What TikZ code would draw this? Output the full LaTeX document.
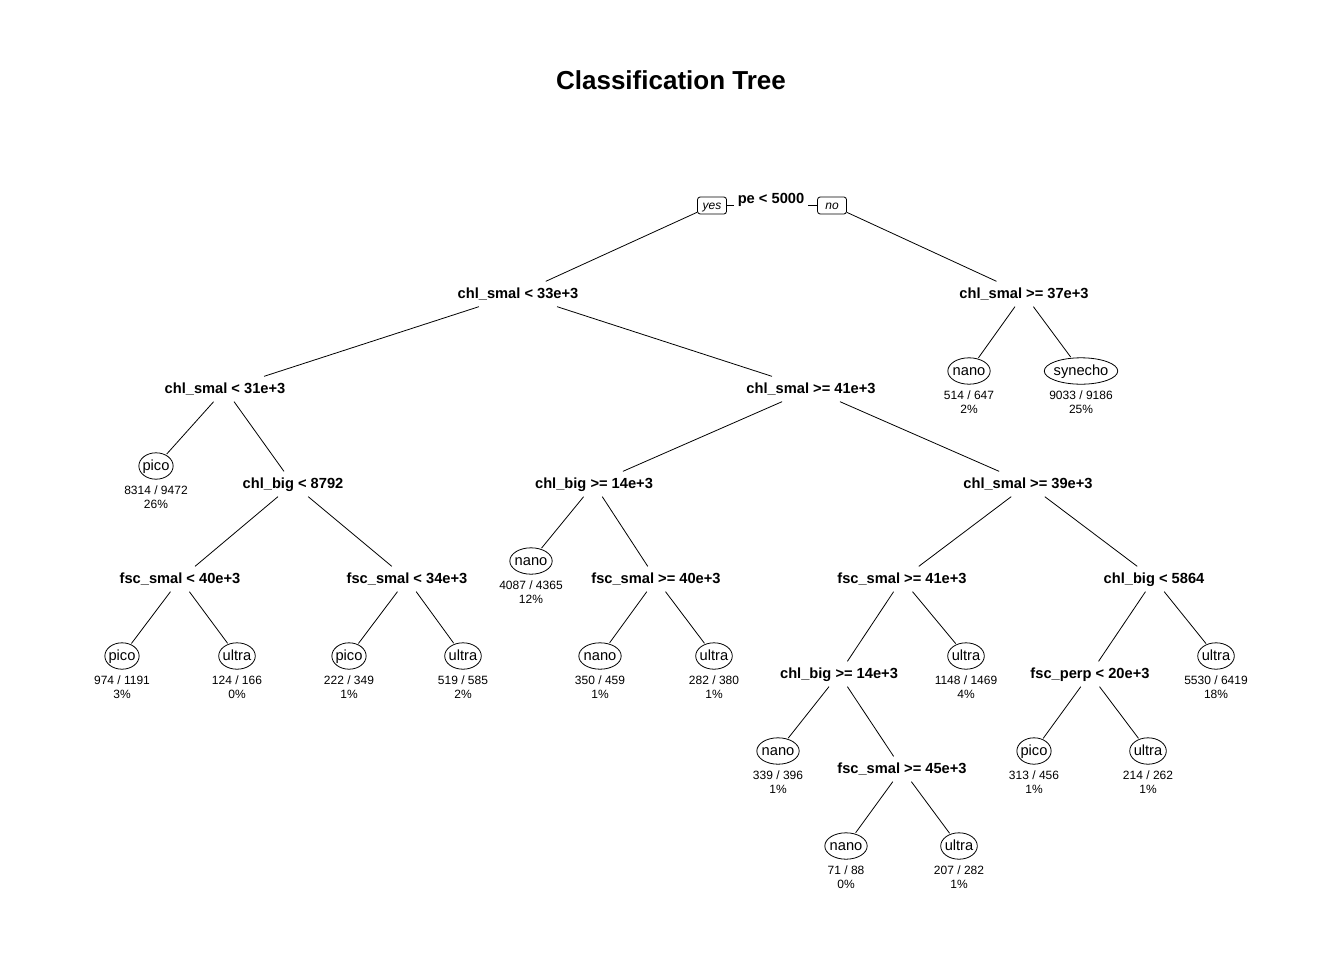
\documentclass[tikz,border=0pt]{standalone}
\usepackage{fontspec}
\setmainfont{Liberation Sans}
\usetikzlibrary{shapes.geometric}
\begin{document}
\begin{tikzpicture}[x=0.75pt, y=-0.75pt, node distance=23.25pt, every node/.style={align=center}]
        \tikzstyle{split}=[font=\bfseries\fontsize{11}{13}\selectfont, text height=9.5pt, text depth=2.5pt, inner xsep=1pt, inner ysep=1.5pt, outer sep=2pt];
        \tikzstyle{leaf}=[ellipse, draw, line width=0.6pt, font=\fontsize{11}{12}\selectfont, text height=8.6pt, text depth=2.2pt, inner xsep=-1pt, inner ysep=1.6pt, outer sep=1pt];
        \tikzstyle{count}=[font=\fontsize{9}{10.5}\selectfont, inner sep=0pt];
        \tikzstyle{tag}=[rectangle, draw, rounded corners=2pt, line width=0.6pt, font=\itshape\fontsize{9}{10}\selectfont, text height=7pt, text depth=1.5pt, minimum width=21.75pt, minimum height=12.75pt, inner sep=1pt];
        \tikzstyle{edge}=[line width=0.6pt];
        \useasboundingbox (0,0) rectangle (1344,960);
        \node[font=\bfseries\fontsize{19.5}{22}\selectfont] (title) at (671,80) {Classification Tree};
        % root and yes/no tags
        \node[split] (root) at (771,199) {pe < 5000};
        \node[tag] (yes) at (712,205.5) {yes};
        \node[tag] (no) at (832,205.5) {no};
        \draw[edge] (yes.east) -- (yes.east -| root.west);
        \draw[edge] (no.west) -- (no.west -| root.east);
        % splits
        \node[split] (n2) at (518,294) {chl\_smal < 33e+3};
        \node[split] (n3) at (1024,294) {chl\_smal >= 37e+3};
        \node[split] (n4) at (225,389) {chl\_smal < 31e+3};
        \node[split] (n5) at (811,389) {chl\_smal >= 41e+3};
        \node[split] (n9) at (293,484) {chl\_big < 8792};
        \node[split] (n10) at (594,484) {chl\_big >= 14e+3};
        \node[split] (n11) at (1028,484) {chl\_smal >= 39e+3};
        \node[split] (n12) at (180,579) {fsc\_smal < 40e+3};
        \node[split] (n13) at (407,579) {fsc\_smal < 34e+3};
        \node[split] (n15) at (656,579) {fsc\_smal >= 40e+3};
        \node[split] (n16) at (902,579) {fsc\_smal >= 41e+3};
        \node[split] (n17) at (1154,579) {chl\_big < 5864};
        \node[split] (n24) at (839,674) {chl\_big >= 14e+3};
        \node[split] (n26) at (1090,674) {fsc\_perp < 20e+3};
        \node[split] (n29) at (902,769) {fsc\_smal >= 45e+3};
        % leaves
        \node[leaf] (l6) at (969,371) {nano};
        \node[count, below of=l6] (c6) {514 / 647\\2\%};
        \node[leaf] (l7) at (1081,371) {synecho};
        \node[count, below of=l7] (c7) {9033 / 9186\\25\%};
        \node[leaf] (l8) at (156,466) {pico};
        \node[count, below of=l8] (c8) {8314 / 9472\\26\%};
        \node[leaf] (l14) at (531,561) {nano};
        \node[count, below of=l14] (c14) {4087 / 4365\\12\%};
        \node[leaf] (l18) at (122,656) {pico};
        \node[count, below of=l18] (c18) {974 / 1191\\3\%};
        \node[leaf] (l19) at (237,656) {ultra};
        \node[count, below of=l19] (c19) {124 / 166\\0\%};
        \node[leaf] (l20) at (349,656) {pico};
        \node[count, below of=l20] (c20) {222 / 349\\1\%};
        \node[leaf] (l21) at (463,656) {ultra};
        \node[count, below of=l21] (c21) {519 / 585\\2\%};
        \node[leaf] (l22) at (600,656) {nano};
        \node[count, below of=l22] (c22) {350 / 459\\1\%};
        \node[leaf] (l23) at (714,656) {ultra};
        \node[count, below of=l23] (c23) {282 / 380\\1\%};
        \node[leaf] (l25) at (966,656) {ultra};
        \node[count, below of=l25] (c25) {1148 / 1469\\4\%};
        \node[leaf] (l27) at (1216,656) {ultra};
        \node[count, below of=l27] (c27) {5530 / 6419\\18\%};
        \node[leaf] (l28) at (778,751) {nano};
        \node[count, below of=l28] (c28) {339 / 396\\1\%};
        \node[leaf] (l30) at (1034,751) {pico};
        \node[count, below of=l30] (c30) {313 / 456\\1\%};
        \node[leaf] (l31) at (1148,751) {ultra};
        \node[count, below of=l31] (c31) {214 / 262\\1\%};
        \node[leaf] (l32) at (846,846) {nano};
        \node[count, below of=l32] (c32) {71 / 88\\0\%};
        \node[leaf] (l33) at (959,846) {ultra};
        \node[count, below of=l33] (c33) {207 / 282\\1\%};
        % branches
        \draw[edge] (yes) -- (n2);
        \draw[edge] (no) -- (n3);
        \draw[edge] (n2) -- (n4);
        \draw[edge] (n2) -- (n5);
        \draw[edge] (n3) -- (l6);
        \draw[edge] (n3) -- (l7);
        \draw[edge] (n4) -- (l8);
        \draw[edge] (n4) -- (n9);
        \draw[edge] (n5) -- (n10);
        \draw[edge] (n5) -- (n11);
        \draw[edge] (n9) -- (n12);
        \draw[edge] (n9) -- (n13);
        \draw[edge] (n10) -- (l14);
        \draw[edge] (n10) -- (n15);
        \draw[edge] (n11) -- (n16);
        \draw[edge] (n11) -- (n17);
        \draw[edge] (n12) -- (l18);
        \draw[edge] (n12) -- (l19);
        \draw[edge] (n13) -- (l20);
        \draw[edge] (n13) -- (l21);
        \draw[edge] (n15) -- (l22);
        \draw[edge] (n15) -- (l23);
        \draw[edge] (n16) -- (n24);
        \draw[edge] (n16) -- (l25);
        \draw[edge] (n17) -- (n26);
        \draw[edge] (n17) -- (l27);
        \draw[edge] (n24) -- (l28);
        \draw[edge] (n24) -- (n29);
        \draw[edge] (n26) -- (l30);
        \draw[edge] (n26) -- (l31);
        \draw[edge] (n29) -- (l32);
        \draw[edge] (n29) -- (l33);
    \end{tikzpicture}
\end{document}
